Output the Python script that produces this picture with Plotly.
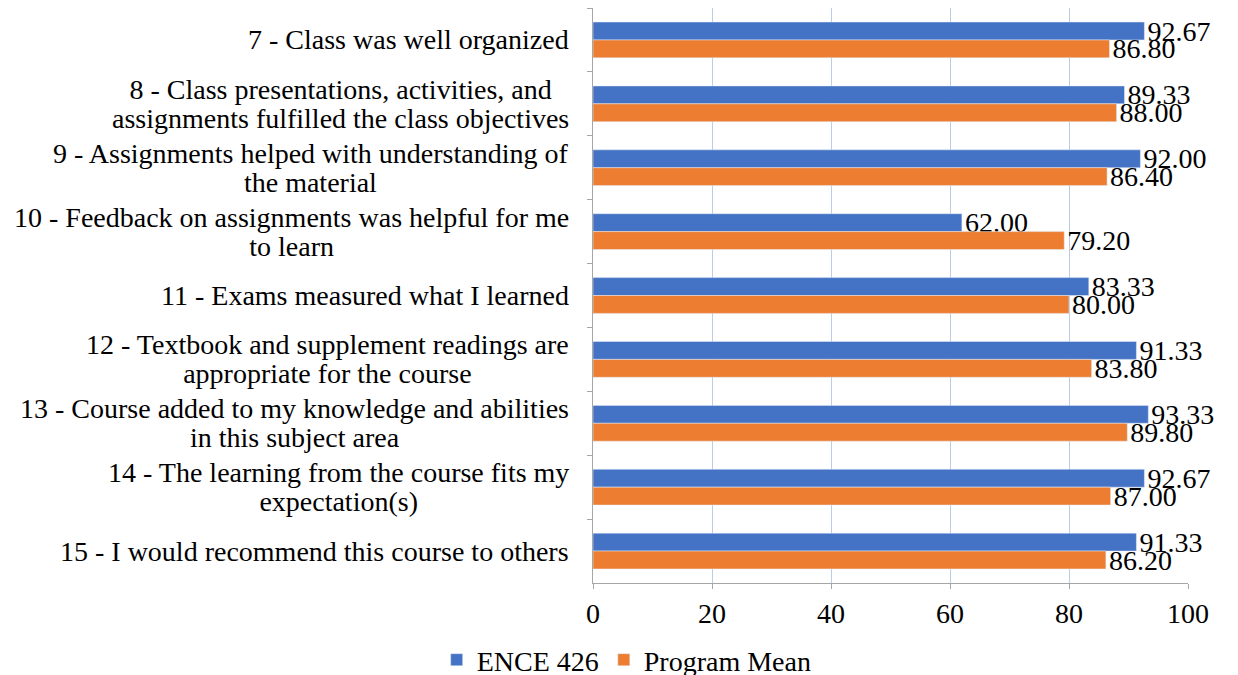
import plotly.graph_objects as go

# Survey items (top to bottom) and the two series
questions = [
    '7 - Class was well organized',
    '8 - Class presentations, activities, and<br>assignments fulfilled the class objectives',
    '9 - Assignments helped with understanding of<br>the material',
    '10 - Feedback on assignments was helpful for me<br>to learn',
    '11 - Exams measured what I learned',
    '12 - Textbook and supplement readings are<br>appropriate for the course',
    '13 - Course added to my knowledge and abilities<br>in this subject area',
    '14 - The learning from the course fits my<br>expectation(s)',
    '15 - I would recommend this course to others',
]
ence_426 = [92.67, 89.33, 92.00, 62.00, 83.33, 91.33, 93.33, 92.67, 91.33]
program_mean = [86.80, 88.00, 86.40, 79.20, 80.00, 83.80, 89.80, 87.00, 86.20]
x_ticks = [0, 20, 40, 60, 80, 100]

FONT = 'Liberation Serif'
FONT_SIZE = 28

fig = go.Figure()
fig.add_trace(go.Bar(name='ENCE 426', y=questions, x=ence_426, orientation='h',
                     marker_color='#4472C4'))
fig.add_trace(go.Bar(name='Program Mean', y=questions, x=program_mean, orientation='h',
                     marker_color='#ED7D31'))
fig.update_traces(texttemplate='%{x:.2f}', textposition='outside',
                  constraintext='none', cliponaxis=False,
                  textfont=dict(family=FONT, size=FONT_SIZE, color='black'))

# category labels drawn as annotations so multi-line text is centred;
# base font is smaller so the line spacing stays tight, the span sets glyph size
for q in questions:
    label = '<br>'.join(f'<span style="font-size:{FONT_SIZE}px">{line}</span>'
                        for line in q.split('<br>'))
    fig.add_annotation(x=0, xref='paper', xanchor='right', xshift=-22,
                       y=q, yref='y', yanchor='middle',
                       text=label, align='center', showarrow=False,
                       font=dict(family=FONT, size=22.5, color='black'))

# the page body adds an 8px offset, so the figure is 8px smaller than the window
fig.update_layout(
    width=1230, height=667,
    barmode='group', bargap=0.44, bargroupgap=0,
    plot_bgcolor='white', paper_bgcolor='white',
    font=dict(family=FONT, size=FONT_SIZE, color='black'),
    margin=dict(l=585, r=50, t=0, b=92),
    xaxis=dict(range=[0, 100], tickvals=x_ticks, showgrid=True, gridcolor='#BCCBEA',
               gridwidth=1, zeroline=False, showline=True, linecolor='#A6A6A6',
               ticks='outside', ticklen=5, tickcolor='#A6A6A6'),
    yaxis=dict(categoryorder='array', categoryarray=questions, autorange='reversed',
               showticklabels=False, showline=True, linecolor='#A6A6A6',
               ticks='outside', tickson='boundaries', ticklen=5, tickcolor='#A6A6A6',
               showgrid=False),
    showlegend=True,
    legend=dict(orientation='h', xref='container', yref='container',
                x=0.503, xanchor='center', y=0.0225, yanchor='middle',
                font=dict(family=FONT, size=FONT_SIZE), traceorder='normal'),
)

fig.write_html('out.html')
